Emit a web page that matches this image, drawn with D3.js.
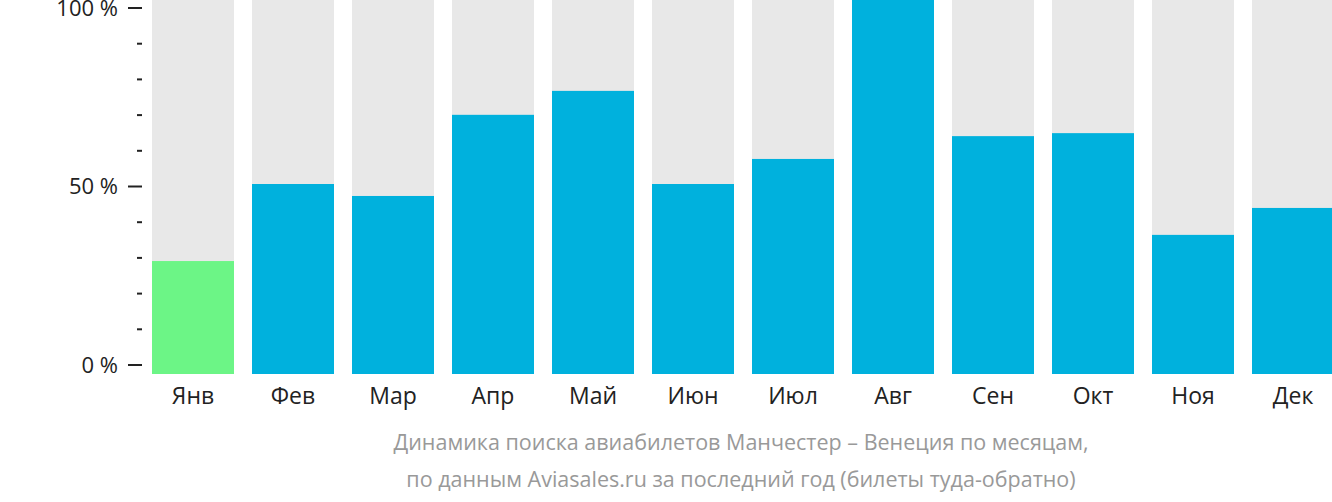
<!DOCTYPE html><html><head><meta charset="utf-8"><script src="https://cdn.jsdelivr.net/npm/d3@7"></script>
<style>body{margin:0;background:#fff}text{font-family:"Open Sans",sans-serif}</style></head><body><svg id="c" width="1332" height="502"></svg>
<script>
const months=["Янв","Фев","Мар","Апр","Май","Июн","Июл","Авг","Сен","Окт","Ноя","Дек"];
const values=[30.2,50.8,47.6,69.3,75.7,50.8,57.5,100,63.6,64.4,37.2,44.4];
const tickLabels=["0 %","50 %","100 %"];
const svg=d3.select("#c");
const x=d3.scaleBand().domain(months).range([143,1343]).paddingInner(0.18).paddingOuter(0.09);
const yb=d3.scaleLinear().domain([0,100]).range([374,0]);
const ya=d3.scaleLinear().domain([0,100]).range([365,8]);
svg.selectAll(".bg").data(months).join("rect").attr("x",d=>x(d)).attr("y",0).attr("width",x.bandwidth()).attr("height",374).attr("fill","#e8e8e8");
svg.selectAll(".b").data(values).join("rect").attr("x",(d,i)=>x(months[i])).attr("y",d=>yb(d)).attr("width",x.bandwidth()).attr("height",d=>374-yb(d)).attr("fill",(d,i)=>i==0?"#6cf586":"#00b1dd");
const g=svg.append("g");
d3.range(0,101,10).forEach(v=>{const major=v%50==0;g.append("line").attr("x1",major?128:137).attr("x2",142).attr("y1",ya(v)).attr("y2",ya(v)).attr("stroke","#222").attr("stroke-width",2);
if(major)g.append("text").attr("x",118).attr("y",ya(v)).attr("dy","0.35em").attr("text-anchor","end").attr("font-size",22).attr("fill","#222").text(tickLabels[v/50]);});
svg.selectAll(".m").data(months).join("text").attr("x",d=>x(d)+x.bandwidth()/2).attr("y",404).attr("text-anchor","middle").attr("font-size",23).attr("fill","#222").text(d=>d);
svg.append("text").attr("x",741).attr("y",450).attr("text-anchor","middle").attr("font-size",21.5).attr("fill","#999").text("Динамика поиска авиабилетов Манчестер – Венеция по месяцам,");
svg.append("text").attr("x",741).attr("y",487).attr("text-anchor","middle").attr("font-size",21.5).attr("fill","#999").text("по данным Aviasales.ru за последний год (билеты туда-обратно)");
</script></body></html>
